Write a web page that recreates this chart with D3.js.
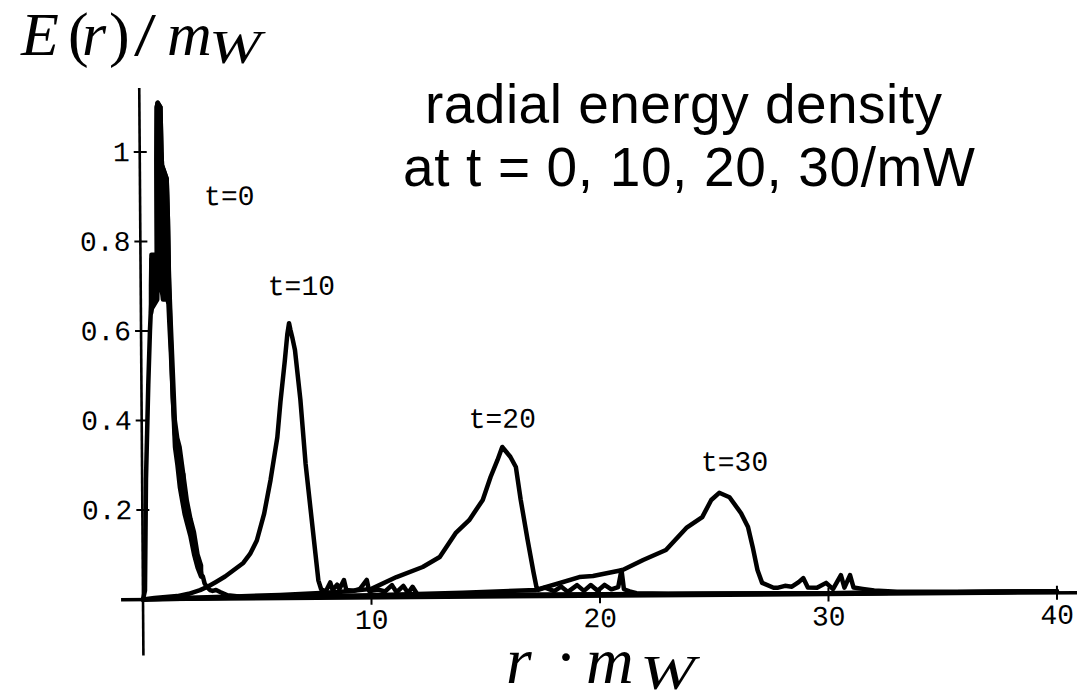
<!DOCTYPE html>
<html>
<head>
<meta charset="utf-8">
<script src="https://cdn.jsdelivr.net/npm/d3@7"></script>
<style>
  html, body { margin: 0; padding: 0; background: #fff; }
  svg { display: block; }
</style>
</head>
<body>
<svg id="chart" width="1077" height="699"></svg>
<script>
// ---------- data ----------
const seriesNames = ["t=0", "t=10", "t=20", "t=30"];

// t = 0 : radius r·mW and energy density E/mW
const r_t0 = [0, 0.09, 0.17, 0.30, 0.39, 0.45, 0.48, 0.72, 0.73, 0.76, 0.80, 0.92, 0.95, 0.97, 1.17, 1.21, 1.24, 1.30, 1.37, 1.45, 1.50, 1.56, 1.60, 1.64, 1.68, 1.72, 1.76, 1.80, 1.84, 1.90, 1.96, 2.00, 2.05, 2.10, 2.16, 2.21, 2.26, 2.32, 2.38, 2.44, 2.50, 2.56, 2.63, 2.70, 2.80, 2.93, 3.05, 3.2, 3.4, 3.7, 4.2, 5, 10, 20, 30, 40];
const E_t0 = [0, 0.02, 0.27, 0.48, 0.60, 0.66, 0.76, 0.77, 0.98, 1.10, 1.11, 1.10, 1.0, 0.97, 0.94, 0.85, 0.70, 0.58, 0.45, 0.37, 0.35, 0.33, 0.30, 0.33, 0.26, 0.30, 0.24, 0.28, 0.21, 0.21, 0.19, 0.20, 0.16, 0.17, 0.14, 0.15, 0.11, 0.09, 0.085, 0.07, 0.075, 0.055, 0.05, 0.035, 0.027, 0.02, 0.018, 0.02, 0.015, 0.008, 0.005, 0.004, 0.004, 0.003, 0.003, 0.003];
// t = 0 : envelope of the rapid oscillations (solid black band)
const bandR = [0.45, 0.48, 0.72, 0.73, 0.76, 0.80, 0.92, 0.95, 0.97, 1.17, 1.21, 1.24, 1.30, 1.45, 1.55, 1.65, 1.75, 1.85, 1.95, 2.10, 2.25, 2.40, 2.55];
const bandLow = [0.64, 0.65, 0.67, 0.69, 0.70, 0.70, 0.69, 0.68, 0.67, 0.67, 0.66, 0.62, 0.55, 0.34, 0.30, 0.25, 0.22, 0.19, 0.17, 0.14, 0.10, 0.07, 0.05];
const bandHigh = [0.70, 0.77, 0.77, 0.98, 1.10, 1.11, 1.10, 1.0, 0.97, 0.94, 0.85, 0.72, 0.62, 0.40, 0.36, 0.34, 0.30, 0.26, 0.22, 0.18, 0.15, 0.10, 0.075];

const r_t10 = [0, 0.5, 1.0, 1.5, 2.0, 2.5, 2.85, 3.2, 3.6, 4.0, 4.4, 4.7, 5.0, 5.33, 5.62, 5.93, 6.08, 6.28, 6.40, 6.48, 6.54, 6.63, 6.73, 6.95, 7.16, 7.36, 7.56, 7.68, 7.8, 8.0, 8.2, 8.3, 8.5, 8.6, 8.8, 8.9, 9.2, 9.5, 9.8, 9.9, 10.3, 10.6, 10.9, 11.1, 11.4, 11.6, 11.8, 12.0, 13, 15, 20, 30, 40];
const E_t10 = [0, 0.003, 0.005, 0.007, 0.012, 0.02, 0.028, 0.038, 0.05, 0.065, 0.08, 0.1, 0.13, 0.19, 0.265, 0.36, 0.44, 0.53, 0.59, 0.615, 0.60, 0.58, 0.555, 0.445, 0.30, 0.2, 0.1, 0.04, 0.02, 0.015, 0.035, 0.018, 0.03, 0.02, 0.04, 0.018, 0.016, 0.02, 0.04, 0.015, 0.018, 0.014, 0.028, 0.012, 0.026, 0.01, 0.024, 0.008, 0.006, 0.005, 0.004, 0.003, 0.003];

const r_t20 = [0, 2, 4, 6, 8, 9, 10, 11.1, 12.25, 13.0, 13.7, 14.3, 14.9, 15.25, 15.56, 15.77, 16.12, 16.36, 16.56, 16.85, 17.1, 17.22, 17.3, 17.6, 18.0, 18.3, 18.6, 19.0, 19.3, 19.6, 19.9, 20.2, 20.5, 20.8, 20.95, 21.05, 21.3, 21.6, 23, 30, 40];
const E_t20 = [0, 0.003, 0.005, 0.008, 0.012, 0.015, 0.02, 0.046, 0.068, 0.09, 0.143, 0.172, 0.217, 0.268, 0.306, 0.335, 0.313, 0.29, 0.217, 0.127, 0.054, 0.022, 0.015, 0.02, 0.012, 0.022, 0.01, 0.025, 0.012, 0.025, 0.012, 0.025, 0.015, 0.02, 0.058, 0.015, 0.01, 0.006, 0.004, 0.003, 0.003];

const r_t30 = [0, 5, 10, 14, 17.2, 18.25, 19.1, 19.7, 21.0, 21.9, 22.9, 23.8, 24.5, 24.9, 25.25, 25.7, 26.2, 26.5, 26.7, 26.9, 27.1, 27.6, 27.8, 28.1, 28.4, 28.7, 28.9, 29.1, 29.5, 29.9, 30.2, 30.55, 30.7, 30.95, 31.1, 31.5, 32.0, 33, 36, 40];
const E_t30 = [0, 0.003, 0.006, 0.01, 0.015, 0.03, 0.043, 0.045, 0.058, 0.08, 0.102, 0.151, 0.175, 0.213, 0.229, 0.219, 0.183, 0.152, 0.107, 0.056, 0.027, 0.016, 0.016, 0.02, 0.018, 0.028, 0.037, 0.016, 0.015, 0.026, 0.012, 0.043, 0.015, 0.043, 0.015, 0.012, 0.008, 0.005, 0.004, 0.003];

// curve annotations: label text and where it sits (data units)
const labelText = ["t=0", "t=10", "t=20", "t=30"];
const labelR = [2.80, 5.56, 14.31, 24.46];
const labelE = [0.88, 0.678, 0.378, 0.278];

// axis ticks
const xTickValues = [10, 20, 30, 40];
const xTickLabels = ["10", "20", "30", "40"];
const yTickValues = [0.2, 0.4, 0.6, 0.8, 1];
const yTickLabels = ["0.2", "0.4", "0.6", "0.8", "1"];

const titleLines = ["radial energy density", "at t = 0, 10, 20, 30/mW"];

// ---------- drawing ----------
const svg = d3.select("#chart");
const x = d3.scaleLinear().domain([0, 40]).range([143, 1057]);
const y = d3.scaleLinear().domain([0, 1]).range([599.5, 152]);

const mono = "'Liberation Mono', 'DejaVu Sans Mono', monospace";
const serif = "'Liberation Serif', 'DejaVu Serif', serif";

// slightly rotated plot (scanned figure)
const plot = svg.append("g")
  .attr("transform", `rotate(-0.42, ${x(0)}, ${y(0)})`);

// axes
plot.append("line")
  .attr("x1", x(-0.96)).attr("x2", x(41))
  .attr("y1", y(0)).attr("y2", y(0))
  .attr("stroke", "#000").attr("stroke-width", 3.5);
plot.append("line")
  .attr("x1", x(0)).attr("x2", x(0))
  .attr("y1", y(1.143)).attr("y2", y(-0.125))
  .attr("stroke", "#000").attr("stroke-width", 2.6);

// y ticks
plot.selectAll(".yt").data(yTickValues).enter().append("line")
  .attr("x1", x(0) - 6).attr("x2", x(0) + 7)
  .attr("y1", d => y(d)).attr("y2", d => y(d))
  .attr("stroke", "#000").attr("stroke-width", 2);
plot.selectAll(".yl").data(yTickValues).enter().append("text")
  .attr("x", x(0) - 10).attr("y", d => y(d) + 9)
  .attr("text-anchor", "end")
  .attr("font-family", mono).attr("font-size", 28)
  .text((d, i) => yTickLabels[i]);

// x ticks
plot.selectAll(".xt").data(xTickValues).enter().append("line")
  .attr("x1", d => x(d)).attr("x2", d => x(d))
  .attr("y1", y(0) - 7).attr("y2", y(0) + 7)
  .attr("stroke", "#000").attr("stroke-width", 2);
plot.selectAll(".xl").data(xTickValues).enter().append("text")
  .attr("x", d => x(d)).attr("y", y(0) + 31)
  .attr("text-anchor", "middle")
  .attr("font-family", mono).attr("font-size", 28)
  .text((d, i) => xTickLabels[i]);

// oscillation band of t=0
const band = d3.area()
  .x(d => x(d[0])).y0(d => y(d[1])).y1(d => y(d[2]));
plot.append("path")
  .attr("d", band(bandR.map((r, i) => [r, bandLow[i], bandHigh[i]])))
  .attr("fill", "#000").attr("stroke", "#000")
  .attr("stroke-width", 4.5).attr("stroke-linejoin", "round");

// curves
const rs = [r_t0, r_t10, r_t20, r_t30];
const Es = [E_t0, E_t10, E_t20, E_t30];
const line = d3.line().x(d => x(d[0])).y(d => y(d[1]));
seriesNames.forEach((name, k) => {
  const pts = rs[k].map((r, i) => [r, Es[k][i]]);
  plot.append("path")
    .attr("d", line(pts))
    .attr("fill", "none")
    .attr("stroke", "#000")
    .attr("stroke-width", 4.5)
    .attr("stroke-linejoin", "round")
    .attr("stroke-linecap", "round");
});

// curve labels
plot.selectAll(".cl").data(labelText).enter().append("text")
  .attr("x", (d, i) => x(labelR[i]))
  .attr("y", (d, i) => y(labelE[i]))
  .attr("font-family", mono).attr("font-size", 28)
  .text(d => d);

// title
const tt = svg.append("g")
  .attr("font-family", "'Liberation Sans', Arial, Helvetica, sans-serif")
  .attr("font-size", 55).attr("fill", "#000");
tt.append("text").attr("x", 425).attr("y", 123).attr("textLength", 517).text(titleLines[0]);
tt.append("text").attr("x", 403).attr("y", 186).attr("textLength", 572).text(titleLines[1]);

// math axis labels (pieces of the typeset formulas)
function piece(txt, x0, yb, size, italic, w) {
  const t = svg.append("text")
    .attr("x", x0).attr("y", yb)
    .attr("font-family", serif).attr("font-size", size)
    .attr("font-style", italic ? "italic" : "normal")
    .text(txt);
  if (w) t.attr("textLength", w).attr("lengthAdjust", "spacingAndGlyphs");
}
// E(r)/m_W
piece("E", 21, 55, 62, true);
piece("(", 68, 55, 62, false);
piece("r", 82, 55, 62, true);
piece(")", 109, 55, 62, false);
piece("/", 134, 55, 62, false, 22);
piece("m", 167, 55, 62, true);
piece("W", 209, 63, 46, true, 52);
// r · m_W
piece("r", 506, 683, 66, true);
piece("·", 555, 679, 66, false);
piece("m", 586, 683, 66, true);
piece("W", 640, 689, 48, true, 55);
</script>
</body>
</html>
